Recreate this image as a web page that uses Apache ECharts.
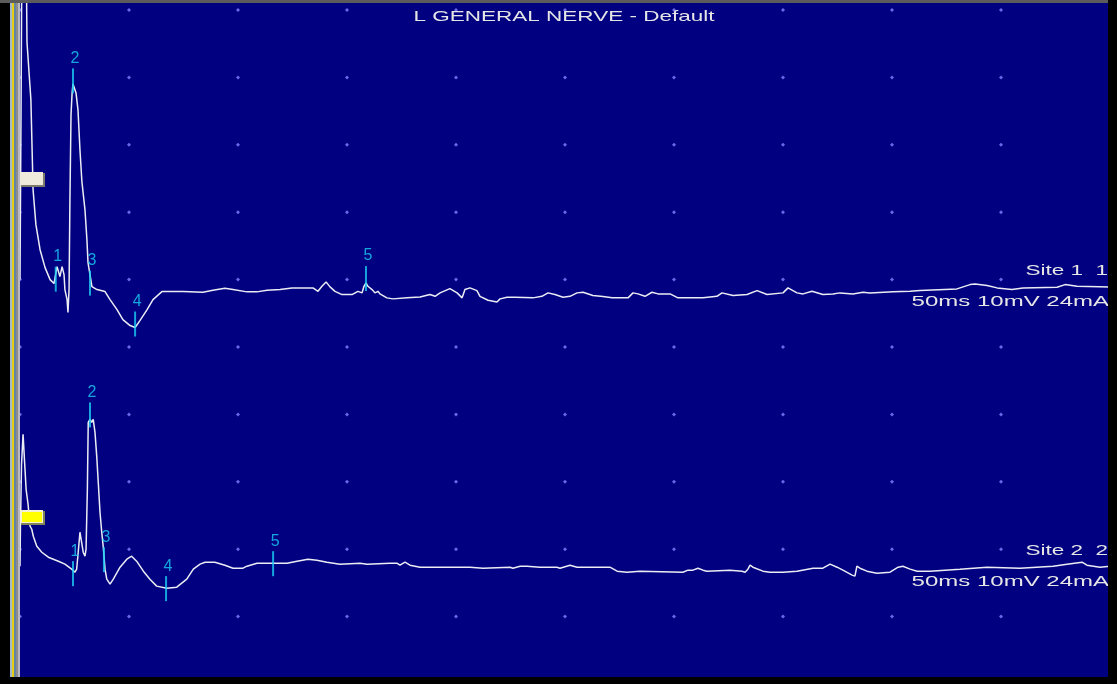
<!DOCTYPE html>
<html>
<head>
<meta charset="utf-8">
<title>L GENERAL NERVE - Default</title>
<script src="https://cdn.jsdelivr.net/npm/echarts@6/dist/echarts.min.js"></script>
<style>
  html, body { margin: 0; padding: 0; background: #000; }
  #chart { width: 1117px; height: 684px; }
</style>
</head>
<body>
<div id="chart"></div>
<script>
// time axis: 5 ms / div, 10 div; amplitude: 10 mV / div
const timeTicks = [0, 5, 10, 15, 20, 25, 30, 35, 40, 45, 50]
const levelTicks = [0, 10, 20, 30, 40, 50, 60, 70, 80, 90, 100]

// baseline of each trace on the screen (mV from bottom)
const site1Base = 58.22
const site2Base = 17.48

// [ms, mV relative to baseline]
const site1Trace = [[0,1.78],[0.05,28.44],[0.09,52.15],[0.28,52.15],[0.32,37.04],[0.41,37.04],[0.50,28.44],[0.60,15.11],[0.73,9.93],[0.92,6.22],[1.15,3.56],[1.38,1.78],[1.56,1.19],[1.70,3.70],[1.83,2.22],[1.93,3.70],[2.02,2.52],[2.06,0.30],[2.16,-1.19],[2.20,-3.11],[2.25,0.30],[2.29,13.63],[2.34,26.22],[2.39,29.48],[2.43,30.81],[2.52,30.81],[2.57,29.48],[2.66,26.96],[2.75,21.04],[2.84,16.30],[2.98,12.15],[3.07,7.70],[3.12,4.30],[3.21,2.52],[3.30,0.74],[3.53,0.30],[3.90,0],[4.13,-1.19],[4.45,-2.67],[4.72,-4.15],[5.05,-5.04],[5.28,-5.33],[5.50,-4.30],[5.83,-2.67],[6.10,-1.19],[6.51,0],[7.48,0],[8.39,-0.10],[8.85,0.19],[9.40,0.49],[9.77,0.30],[10.41,-0.04],[10.87,-0.04],[11.33,0.19],[11.93,0.30],[12.48,0.55],[13.44,0.55],[13.67,0.04],[13.85,0.79],[14.04,1.44],[14.22,0.70],[14.45,0.04],[14.77,-0.44],[15.23,-0.44],[15.50,0.04],[15.69,-0.19],[15.78,0.79],[15.87,1.29],[15.96,0.79],[16.15,0.30],[16.28,-0.19],[16.42,0.04],[16.51,-0.34],[16.83,-0.93],[17.11,-1.08],[17.75,-0.93],[18.35,-0.79],[18.81,-0.44],[19.04,-0.70],[19.27,-0.19],[19.72,0.44],[20.05,-0.19],[20.28,-0.93],[20.41,0.30],[20.64,0.55],[20.96,0.15],[21.10,-0.70],[21.47,-1.29],[21.88,-1.53],[22.02,-1.08],[22.34,-0.84],[22.71,-0.84],[23.53,-0.93],[23.94,-0.70],[24.22,-0.19],[24.54,-0.44],[24.91,-0.84],[25.23,-0.70],[25.55,-0.19],[25.83,-0.10],[26.28,-0.59],[26.74,-0.74],[27.16,-0.93],[27.89,-0.93],[28.12,-0.19],[28.35,-0.34],[28.67,-0.70],[28.99,-0.10],[29.27,-0.34],[29.82,-0.34],[30.18,-0.93],[31.33,-0.93],[31.97,-0.70],[32.20,-0.19],[32.71,-0.59],[33.35,-0.44],[33.81,0.15],[34.27,-0.44],[35.00,-0.19],[35.23,0.55],[35.64,-0.19],[35.92,-0.34],[36.33,0.04],[36.83,-0.44],[37.29,-0.34],[37.61,-0.19],[38.21,-0.34],[38.67,-0.10],[38.99,-0.19],[40.05,-0.04],[40.83,0.04],[41.28,0.15],[42.98,0.40],[43.58,1.04],[43.81,1.14],[44.36,0.89],[44.82,0.55],[45.50,0.30],[46.01,0.55],[47.57,0.64],[47.94,1.04],[48.49,0.79],[50,0.70]]

const site2Trace = [[0,0],[0.02,5.93],[0.07,15.11],[0.14,19.56],[0.23,19.56],[0.28,11.41],[0.37,9.19],[0.46,5.93],[0.54,5.48],[0.61,4.44],[0.77,2.96],[1.00,2.07],[1.30,1.33],[1.76,0.74],[2.06,0.30],[2.37,-0.44],[2.52,-0.89],[2.60,-0.44],[2.67,2.07],[2.75,5.04],[2.83,5.19],[2.90,2.07],[2.98,1.48],[3.03,2.52],[3.09,11.41],[3.13,21.33],[3.21,21.78],[3.29,21.33],[3.36,21.78],[3.44,19.85],[3.52,16.30],[3.59,12.44],[3.67,8.00],[3.75,5.04],[3.82,2.81],[3.90,-0.44],[3.98,-1.93],[4.13,-2.67],[4.28,-1.93],[4.59,-0.15],[4.90,1.04],[5.12,1.48],[5.35,0.74],[5.66,-0.74],[5.96,-1.93],[6.27,-2.96],[6.73,-3.26],[7.19,-3.11],[7.65,-1.93],[7.95,-0.44],[8.26,0.30],[8.49,0.59],[8.94,0.59],[9.40,0.15],[9.77,-0.30],[10.23,-0.30],[10.41,0],[10.87,0.44],[12.25,0.44],[12.71,0.74],[13.21,1.04],[13.62,0.89],[14.08,0.59],[14.68,0.30],[15.60,0.44],[15.92,0.30],[16.97,0.44],[17.29,0.44],[17.43,0.15],[17.66,0.59],[17.89,0.15],[18.35,-0.15],[20.64,-0.15],[21.24,-0.30],[22.48,-0.15],[22.61,-0.30],[22.94,0],[23.26,0],[23.85,-0.15],[24.45,-0.15],[24.63,-0.15],[24.77,-0.30],[25.23,0.15],[25.55,-0.15],[26.01,-0.15],[27.06,-0.15],[27.39,-0.74],[27.84,-0.89],[28.44,-0.74],[30.41,-0.89],[30.50,-1.04],[30.64,-0.59],[30.87,-0.59],[31.10,-0.30],[31.33,-0.59],[31.51,-0.74],[32.57,-0.59],[33.12,-0.74],[33.26,-0.89],[33.39,-0.44],[33.49,0.15],[33.62,-0.15],[34.08,-0.74],[34.40,-0.89],[35.00,-0.89],[35.64,-0.74],[36.38,-0.30],[36.83,-0.30],[37.16,0.30],[37.48,-0.15],[37.75,-0.59],[38.17,-1.33],[38.30,-1.48],[38.39,0],[38.53,-0.30],[38.85,-0.74],[39.31,-1.04],[39.91,-0.89],[40.28,-0.15],[40.50,0],[40.83,-0.44],[41.15,-0.74],[41.74,-0.74],[43.12,-0.44],[44.36,-0.15],[45.87,-0.30],[47.39,0],[48.03,0.30],[48.72,0.59],[48.94,0.15],[49.54,-0.15],[50,0]]

// cursors 1..5 on each trace
const markLabels = ['1', '2', '3', '4', '5']
const site1MarkTimes = [1.64, 2.43, 3.21, 5.28, 15.87]
const site1MarkAmps = [1.85, 31.26, 1.26, -4.81, 1.93]
const site2MarkTimes = [2.43, 3.21, 3.85, 6.70, 11.61]
const site2MarkAmps = [-1.11, 22.44, 0.96, -3.33, 0.37]

const titleText = 'L GENERAL NERVE - Default'
const site1Text = ['Site 1  1', '50ms 10mV 24mA']
const site2Text = ['Site 2  2', '50ms 10mV 24mA']

const traceColor = '#ececf4'
const markColor = '#1ccff4'
const fontName = '"Liberation Sans", Arial, sans-serif'

let dots = []
timeTicks.forEach(t => levelTicks.forEach(l => dots.push([t, l])))

const shift = (trace, base) => trace.map(p => [p[0], p[1] + base])
const marks = (times, amps, base) => times.map((t, i) => ({ name: markLabels[i], value: [t, amps[i] + base] }))

// the screen capture is stretched sideways, so text is too
const wideText = (text, x, y, align, sx) => ({
  type: 'text', x: x, y: y, scaleX: sx || 1.5, z: 50,
  style: { text: text, x: 0, y: 0, align: align, verticalAlign: 'middle', font: '15px ' + fontName, fill: '#e6e6e6' }
})

const chart = echarts.init(document.getElementById('chart'))
chart.setOption({
  backgroundColor: '#000',
  animation: false,
  grid: { left: 20, top: 10, width: 1090, height: 675 },
  xAxis: { type: 'value', min: 0, max: 50, interval: 5, show: false },
  yAxis: { type: 'value', min: 0, max: 100, interval: 10, show: false },
  graphic: [
    // screen background
    { type: 'rect', z: -10, shape: { x: 20, y: 3, width: 1088, height: 674 }, style: { fill: '#000080' } },
    // frame
    { type: 'rect', z: 100, shape: { x: 0, y: 0, width: 1117, height: 3 }, style: { fill: '#5c5c5c' } },
    { type: 'rect', z: 100, shape: { x: 0, y: 677, width: 1117, height: 7 }, style: { fill: '#000' } },
    { type: 'rect', z: 100, shape: { x: 1108, y: 0, width: 9, height: 684 }, style: { fill: '#000' } },
    { type: 'rect', z: 100, shape: { x: 0, y: 3, width: 10, height: 674 }, style: { fill: '#000' } },
    { type: 'rect', z: 100, shape: { x: 10, y: 3, width: 2, height: 674 }, style: { fill: '#a4b8cc' } },
    { type: 'rect', z: 100, shape: { x: 12, y: 3, width: 2, height: 674 }, style: { fill: '#e8cc10' } },
    { type: 'rect', z: 100, shape: { x: 14, y: 3, width: 2, height: 674 }, style: { fill: '#6484a4' } },
    { type: 'rect', z: 100, shape: { x: 16, y: 3, width: 2, height: 674 }, style: { fill: '#8c8c8c' } },
    { type: 'rect', z: 100, shape: { x: 18, y: 3, width: 2, height: 674 }, style: { fill: '#b8b8c4' } },
    // gain cursors
    { type: 'rect', z: 60, shape: { x: 21, y: 173, width: 24, height: 14 }, style: { fill: '#7c7a6c' } },
    { type: 'rect', z: 61, shape: { x: 20, y: 172, width: 23, height: 13 }, style: { fill: '#efebdc' } },
    { type: 'rect', z: 60, shape: { x: 21, y: 511, width: 24, height: 14 }, style: { fill: '#84845a' } },
    { type: 'rect', z: 61, shape: { x: 20, y: 510, width: 23, height: 13 }, style: { fill: '#f4f0d8' } },
    { type: 'rect', z: 62, shape: { x: 22, y: 512, width: 20, height: 10 }, style: { fill: '#ffff00' } },
    // texts
    wideText(titleText, 564, 17, 'center'),
    wideText(site1Text[0], 1108, 271, 'right'),
    wideText(site1Text[1], 1109, 302, 'right', 1.6),
    wideText(site2Text[0], 1108, 551, 'right'),
    wideText(site2Text[1], 1109, 582, 'right', 1.6)
  ],
  series: [
    {
      type: 'scatter', silent: true, z: 1,
      symbol: 'diamond', symbolSize: 4,
      itemStyle: { color: '#8484ff' },
      data: dots
    },
    {
      name: 'Site 1', type: 'line', clip: false, showSymbol: false, z: 3,
      lineStyle: { color: traceColor, width: 1.5 },
      data: shift(site1Trace, site1Base)
    },
    {
      name: 'Site 2', type: 'line', clip: false, showSymbol: false, z: 3,
      lineStyle: { color: traceColor, width: 1.5 },
      data: shift(site2Trace, site2Base)
    },
    {
      type: 'scatter', z: 4, symbol: 'rect', symbolSize: [2, 25],
      itemStyle: { color: markColor },
      label: { show: true, position: 'top', distance: 2, offset: [2, 0], formatter: '{b}', color: markColor, fontFamily: fontName, fontSize: 16 },
      data: marks(site1MarkTimes, site1MarkAmps, site1Base).concat(marks(site2MarkTimes, site2MarkAmps, site2Base))
    }
  ]
})
</script>
</body>
</html>
